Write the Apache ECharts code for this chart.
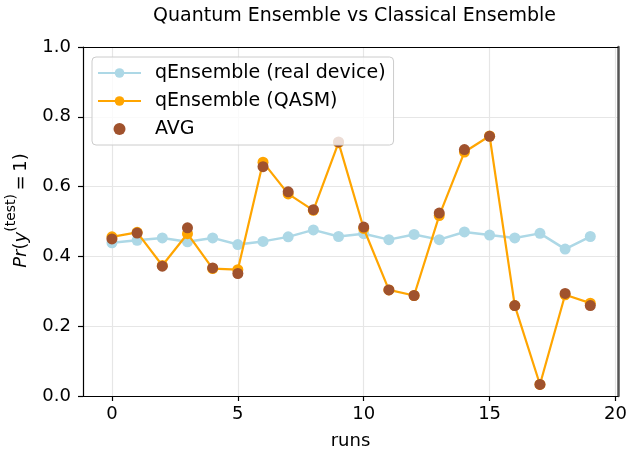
<!DOCTYPE html>
<html>
<head>
<meta charset="utf-8">
<script src="https://cdn.jsdelivr.net/npm/echarts@6/dist/echarts.min.js"></script>
<style>
  html, body { margin: 0; padding: 0; background: #fff; }
  #chart { width: 626px; height: 452px; }
</style>
</head>
<body>
<div id="chart"></div>
<script>
// Run index on the x axis
const runs = [0, 1, 2, 3, 4, 5, 6, 7, 8, 9, 10, 11, 12, 13, 14, 15, 16, 17, 18, 19];
// Probability of class 1 per run
const realDevice = [0.439, 0.446, 0.453, 0.442, 0.453, 0.434, 0.443, 0.456, 0.476, 0.457,
                    0.465, 0.448, 0.463, 0.448, 0.470, 0.461, 0.453, 0.466, 0.421, 0.457];
const qasm = [0.456, 0.469, 0.374, 0.465, 0.365, 0.362, 0.670, 0.579, 0.532, 0.726,
              0.480, 0.304, 0.288, 0.517, 0.699, 0.745, 0.259, 0.033, 0.290, 0.266];
const avg = [0.450, 0.467, 0.372, 0.482, 0.367, 0.351, 0.657, 0.585, 0.534, 0.728,
             0.484, 0.304, 0.288, 0.524, 0.706, 0.744, 0.259, 0.033, 0.294, 0.259];
const xTicks = [0, 5, 10, 15, 20];

const FONT = 'DejaVu Sans';
const pairs = (ys) => runs.map((r, i) => [r, ys[i]]);

const chart = echarts.init(document.getElementById('chart'), null, { renderer: 'canvas' });

chart.setOption({
  animation: false,
  backgroundColor: '#ffffff',
  title: {
    text: 'Quantum Ensemble vs Classical Ensemble',
    left: 148,
    top: 2,
    textStyle: { fontFamily: FONT, fontSize: 19, fontWeight: 'normal', color: '#000' }
  },
  grid: { left: 83, right: 8, top: 47, bottom: 56, containLabel: false, outerBoundsMode: 'none' },
  legend: {
    orient: 'vertical',
    left: 92,
    top: 57,
    padding: [6, 8, 6, 5],
    itemWidth: 43,
    itemHeight: 12,
    itemGap: 8,
    z: 10,
    backgroundColor: 'rgba(255,255,255,0.8)',
    borderColor: '#cccccc',
    borderWidth: 1,
    borderRadius: 4,
    textStyle: { fontFamily: FONT, fontSize: 19, color: '#000', lineHeight: 20, padding: [0, 0, 0, 9] },
    data: ['qEnsemble (real device)', 'qEnsemble (QASM)', 'AVG']
  },
  xAxis: [{
    type: 'value',
    position: 'bottom',
    min: -1.15,
    max: 20.1,
    name: 'runs',
    nameLocation: 'middle',
    nameGap: 36,
    nameTextStyle: { fontFamily: FONT, fontSize: 18, color: '#000' },
    axisLine: { show: true, onZero: false, lineStyle: { color: '#000', width: 1.2 } },
    axisTick: { show: true, length: 5, customValues: xTicks, lineStyle: { color: '#000', width: 1.2 } },
    axisLabel: { customValues: xTicks, margin: 9, fontFamily: FONT, fontSize: 18, color: '#000' },
    splitLine: { show: true, lineStyle: { color: '#e6e6e6', width: 1.2 } }
  }, {
    type: 'value',
    position: 'top',
    min: -1.15,
    max: 20.1,
    axisLine: { show: true, onZero: false, lineStyle: { color: '#000', width: 1.2 } },
    axisTick: { show: false },
    axisLabel: { show: false },
    splitLine: { show: false }
  }],
  yAxis: [{
    type: 'value',
    position: 'left',
    min: 0,
    max: 1,
    interval: 0.2,
    name: '{i|Pr}{n|(}{i|y}{s|(test)}{n|\u2009=\u20091)}',
    nameLocation: 'middle',
    nameRotate: 90,
    nameGap: 53,
    nameTextStyle: {
      fontFamily: FONT, fontSize: 18, color: '#000',
      padding: [0, 0, 0, 22],
      rich: {
        i: { fontFamily: FONT, fontSize: 18, fontStyle: 'italic', color: '#000', lineHeight: 26, verticalAlign: 'bottom' },
        n: { fontFamily: FONT, fontSize: 18, color: '#000', lineHeight: 26, verticalAlign: 'bottom' },
        s: { fontFamily: FONT, fontSize: 14, color: '#000', lineHeight: 26, verticalAlign: 'top' }
      }
    },
    axisLine: { show: true, onZero: false, lineStyle: { color: '#000', width: 1.2 } },
    axisTick: { show: true, length: 5, lineStyle: { color: '#000', width: 1.2 } },
    axisLabel: {
      margin: 12, fontFamily: FONT, fontSize: 18, color: '#000',
      formatter: (v) => v.toFixed(1)
    },
    splitLine: { show: true, lineStyle: { color: '#e6e6e6', width: 1.2 } }
  }, {
    type: 'value',
    position: 'right',
    min: 0,
    max: 1,
    axisLine: { show: true, onZero: false, lineStyle: { color: '#555555', width: 2.5 } },
    axisTick: { show: false },
    axisLabel: { show: false },
    splitLine: { show: false }
  }],
  series: [{
    name: 'qEnsemble (real device)',
    type: 'line',
    xAxisIndex: 0,
    yAxisIndex: 0,
    z: 2,
    data: pairs(realDevice),
    symbol: 'circle',
    symbolSize: 11,
    lineStyle: { color: '#add8e6', width: 2.5 },
    itemStyle: { color: '#add8e6', borderWidth: 0 }
  }, {
    name: 'qEnsemble (QASM)',
    type: 'line',
    xAxisIndex: 0,
    yAxisIndex: 0,
    z: 3,
    data: pairs(qasm),
    symbol: 'circle',
    symbolSize: 11,
    lineStyle: { color: '#ffa500', width: 2.2 },
    itemStyle: { color: '#ffa500', borderWidth: 0 }
  }, {
    name: 'AVG',
    type: 'scatter',
    xAxisIndex: 0,
    yAxisIndex: 0,
    z: 5,
    data: pairs(avg),
    symbol: 'circle',
    symbolSize: 11,
    itemStyle: { color: '#a0522d', opacity: 1 }
  }]
});
</script>
</body>
</html>
